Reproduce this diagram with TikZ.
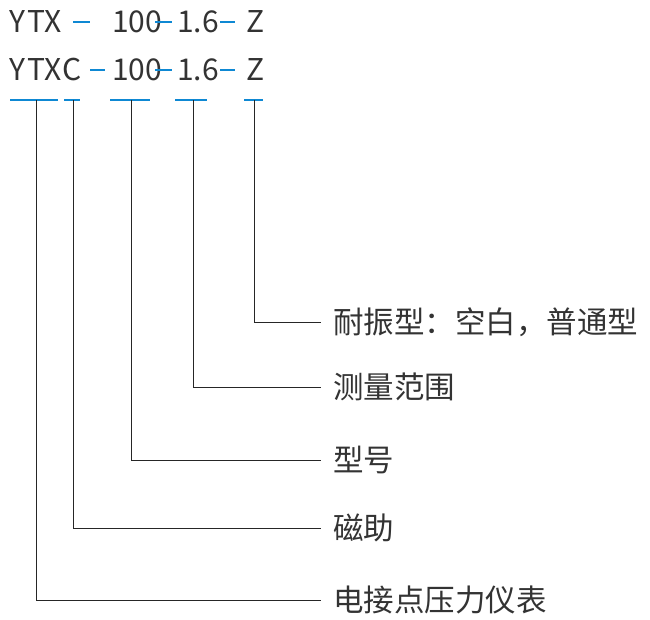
\documentclass[tikz,border=0pt]{standalone}
\usepackage{fontspec}
\setmainfont{Noto Sans CJK SC}
\begin{document}
\begin{tikzpicture}[x=1pt,y=-1pt,
  ch/.style={inner sep=0pt,anchor=base west,font=\fontsize{30}{30}\selectfont,text=black!80},
  lab/.style={inner sep=0pt,anchor=west,font=\fontsize{30.5}{30.5}\selectfont,text=black!80},
  cy/.style={draw=cyan!70!blue,line width=1.2pt},
  ln/.style={draw=black!85,line width=0.7pt}]
\useasboundingbox (0,0) rectangle (650,620);
% row 1
\foreach \c/\x in {Y/9,T/27,X/44}{\node[ch] (r1\c) at (\x,33) {\c};}
\node[ch] (r1n) at (112,33) {100};
\node[ch] (r1d) at (177,33) {1.6};
\node[ch] (r1z) at (246,33) {Z};
\draw[cy] (73,22) -- (90,22) (155,22) -- (172,22) (220,22) -- (235,22);
% row 2
\foreach \c/\x in {Y/9,T/27,X/44,C/62}{\node[ch] (r2\c) at (\x,81) {\c};}
\node[ch] (r2n) at (112,81) {100};
\node[ch] (r2d) at (177,81) {1.6};
\node[ch] (r2z) at (246,81) {Z};
\draw[cy] (90,70) -- (105,70) (155,70) -- (172,70) (220,70) -- (235,70);
% underlines
\draw[cy] (10,100) -- (58,100) (64,100) -- (80,100) (110,100) -- (150,100) (175,100) -- (207,100) (244,100) -- (263,100);
% labels
\node[lab] (l1) at (333,322) {耐振型：空白，普通型};
\node[lab] (l2) at (333,387) {测量范围};
\node[lab] (l3) at (333,460) {型号};
\node[lab] (l4) at (333,528) {磁助};
\node[lab] (l5) at (333,600) {电接点压力仪表};
\coordinate (a1) at (254,100);
\coordinate (a2) at (193,100);
\coordinate (a3) at (131,100);
\coordinate (a4) at (73,100);
\coordinate (a5) at (36,100);
\draw[ln] (a1) |- ([xshift=-12pt]l1.west);
\draw[ln] (a2) |- ([xshift=-12pt]l2.west);
\draw[ln] (a3) |- ([xshift=-12pt]l3.west);
\draw[ln] (a4) |- ([xshift=-12pt]l4.west);
\draw[ln] (a5) |- ([xshift=-12pt]l5.west);
\end{tikzpicture}
\end{document}
